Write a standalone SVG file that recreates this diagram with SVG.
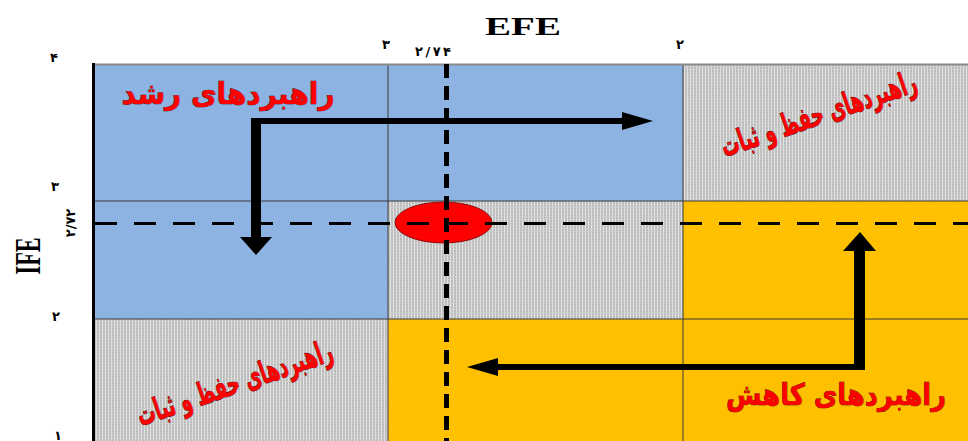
<svg xmlns="http://www.w3.org/2000/svg" width="968" height="441" viewBox="0 0 968 441">
<defs>
<pattern id="dots" width="3" height="3" patternUnits="userSpaceOnUse">
<rect width="3" height="3" fill="#bcbcbc"/>
<rect width="1" height="3" fill="#e4e4e4"/>
<rect width="3" height="1" fill="#d2d2d2" opacity="0.7"/>
</pattern>
<style>
.blue{fill:#8db3e2}
.org{fill:#ffc000}
.gry{fill:url(#dots)}
.grid{stroke:#3a3a3a;stroke-width:1;fill:none}
.lbl{font-family:"DejaVu Sans",sans-serif;font-weight:bold;fill:#ff0000;stroke:#3a0000;stroke-width:0.7;paint-order:stroke}
.tick{font-family:"DejaVu Sans",sans-serif;font-weight:bold;font-size:13px;fill:#000}
.ax{font-family:"Liberation Serif",serif;font-weight:bold;fill:#000}
.arr{fill:#000}
</style>
</defs>
<rect width="968" height="441" fill="#fff"/>
<g id="cells">
<rect class="blue" x="93" y="64" width="295" height="137"/>
<rect class="blue" x="388" y="64" width="295" height="137"/>
<rect class="gry" x="683" y="64" width="285" height="137"/>
<rect class="blue" x="93" y="201" width="295" height="118"/>
<rect class="gry" x="388" y="201" width="295" height="118"/>
<rect class="org" x="683" y="201" width="285" height="118"/>
<rect class="gry" x="93" y="319" width="295" height="122"/>
<rect class="org" x="388" y="319" width="295" height="122"/>
<rect class="org" x="683" y="319" width="285" height="122"/>
</g>
<g id="grid">
<line class="grid" x1="388" y1="64" x2="388" y2="441"/>
<line class="grid" x1="683" y1="64" x2="683" y2="441"/>
<line class="grid" x1="93" y1="201" x2="968" y2="201"/>
<line class="grid" x1="93" y1="319" x2="968" y2="319"/>
<line x1="93" y1="64.5" x2="968" y2="64.5" stroke="#8a8a8a" stroke-width="2"/>
<line x1="93.5" y1="63" x2="93.5" y2="441" stroke="#000" stroke-width="3"/>
</g>
<g id="point">
<ellipse cx="443.5" cy="222.5" rx="48.5" ry="20.5" fill="#ff0000" stroke="#700000" stroke-width="0.8"/>
</g>
<g id="guides">
<line x1="446.5" y1="64" x2="446.5" y2="441" stroke="#000" stroke-width="5" stroke-dasharray="14 8"/>
<line x1="95" y1="223.5" x2="968" y2="223.5" stroke="#000" stroke-width="3" stroke-dasharray="22 17"/>
</g>
<g id="connectors">
<g id="arrow-growth">
<rect class="arr" x="251" y="118" width="373" height="6"/>
<rect class="arr" x="251" y="118" width="10" height="120"/>
<polygon class="arr" points="240,237 272,237 256,255"/>
<polygon class="arr" points="622,112 653,121 622,130"/>
</g>
<g id="arrow-retrench">
<rect class="arr" x="496" y="364" width="369" height="6"/>
<rect class="arr" x="854" y="250" width="11" height="120"/>
<polygon class="arr" points="843,251 876,251 860,232"/>
<polygon class="arr" points="498,358 467,367 498,376"/>
</g>
</g>
<g id="label-growth">
<text class="lbl" x="228" y="104" font-size="30" text-anchor="middle" textLength="213" lengthAdjust="spacingAndGlyphs">راهبردهای رشد</text>
</g>
<g id="label-hold-top">
<text class="lbl" transform="translate(822,124) rotate(-19) scale(1,1.3)" font-size="24" text-anchor="middle" textLength="205" lengthAdjust="spacingAndGlyphs">راهبردهای حفظ و ثبات</text>
</g>
<g id="label-hold-bottom">
<text class="lbl" transform="translate(238,393) rotate(-19) scale(1,1.3)" font-size="24" text-anchor="middle" textLength="205" lengthAdjust="spacingAndGlyphs">راهبردهای حفظ و ثبات</text>
</g>
<g id="label-retrench">
<text class="lbl" x="836" y="405" font-size="30" text-anchor="middle" textLength="220" lengthAdjust="spacingAndGlyphs">راهبردهای کاهش</text>
</g>
<g id="axes">
<text class="ax" transform="translate(523,35) scale(1.5,1)" font-size="26" text-anchor="middle">EFE</text>
<text class="ax" transform="translate(40,256) rotate(-90) scale(1,1.45)" font-size="24" text-anchor="middle" textLength="37" lengthAdjust="spacingAndGlyphs">IFE</text>
<text class="tick" x="54" y="62" text-anchor="middle">۴</text>
<text class="tick" x="386" y="49" text-anchor="middle">۳</text>
<text class="tick" x="433" y="56" text-anchor="middle" textLength="36" lengthAdjust="spacing">۲/۷۴</text>
<text class="tick" x="680" y="49" text-anchor="middle">۲</text>
<text class="tick" x="55" y="191" text-anchor="middle">۳</text>
<text class="tick" transform="translate(75,223) rotate(-90)" text-anchor="middle" font-size="12">۲/۷۲</text>
<text class="tick" x="56" y="321" text-anchor="middle">۲</text>
<text class="tick" x="58" y="440" text-anchor="middle">۱</text>
</g>
</svg>
